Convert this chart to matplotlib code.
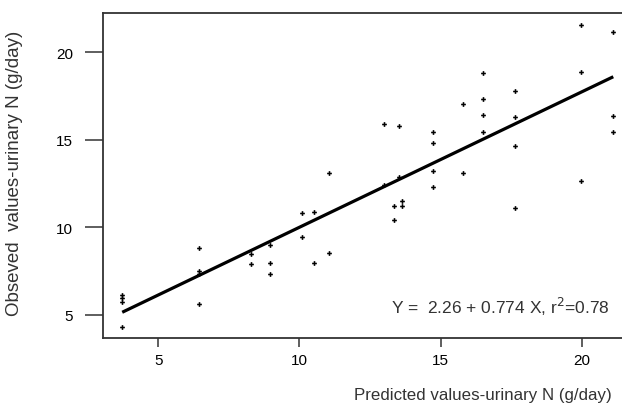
import numpy as np
import matplotlib
matplotlib.use("Agg")
import matplotlib.pyplot as plt

plt.rcParams['font.family'] = ['Liberation Sans', 'DejaVu Sans']

# predicted vs observed urinary N (g/day)
pred = [3.72, 3.72, 3.72, 3.72,
        6.45, 6.45, 6.45, 6.45,
        8.27, 8.27,
        8.96, 8.96, 8.96,
        10.1, 10.1,
        10.53, 10.53,
        11.06, 11.06,
        13.01, 13.01,
        13.34, 13.34,
        13.53, 13.53,
        13.62, 13.62,
        14.74, 14.74, 14.74, 14.74,
        15.8, 15.8,
        16.52, 16.52, 16.52, 16.52,
        17.64, 17.64, 17.64, 17.64,
        19.97, 19.97, 19.97,
        21.12, 21.12, 21.12]
obs = [6.1, 5.95, 5.75, 4.32,
       8.84, 7.5, 7.35, 5.64,
       8.45, 7.92,
       9.0, 7.93, 7.32,
       10.84, 9.42,
       10.85, 7.93,
       13.09, 8.52,
       15.9, 12.41,
       11.22, 10.41,
       15.8, 12.86,
       11.53, 11.24,
       15.42, 14.81, 13.23, 12.28,
       17.02, 13.1,
       18.8, 17.35, 16.4, 15.42,
       17.81, 16.28, 14.66, 11.08,
       21.56, 18.87, 12.64,
       21.17, 16.34, 15.42]
intercept = 2.26
slope = 0.774
r2 = 0.78
xticks = [5, 10, 15, 20]
yticks = [5, 10, 15, 20]

fig = plt.figure(figsize=(6.22, 4.14), dpi=100)
ax = fig.add_axes([0.1661, 0.1804, 0.8371, 0.7857])

ax.plot(pred, obs, 'P', color='black', ms=3.4, mew=0)
xl = np.array([min(pred), max(pred)])
ax.plot(xl, intercept + slope * xl, color='black', lw=2.3, solid_capstyle='butt')

ax.set_xlim(3.05, 21.5)
ax.set_ylim(3.65, 22.25)
ax.set_xticks(xticks)
ax.set_yticks(yticks)
for s in ax.spines.values():
    s.set_color('#333333')
    s.set_linewidth(1.3)
ax.tick_params(axis='y', length=13, width=1.1, color='#333333', pad=9, labelsize=11)
ax.tick_params(axis='x', length=6.5, width=1.1, color='#333333', pad=4, labelsize=11)

ax.text(0.973, 0.10, 'Y =  2.26 + 0.774 X, r$^2$=0.78', transform=ax.transAxes,
        ha='right', va='center', fontsize=12.5, color='#333333')

fig.text(483 / 622, 1 - 396 / 414, 'Predicted values-urinary N (g/day)',
         ha='center', va='center', fontsize=12.2, color='#333333')
fig.text(15 / 622, 1 - 173 / 414, 'Obseved  values-urinary N (g/day)',
         ha='center', va='center', rotation=90, fontsize=13.5, color='#333333')

fig.savefig('out.png', dpi=100)
